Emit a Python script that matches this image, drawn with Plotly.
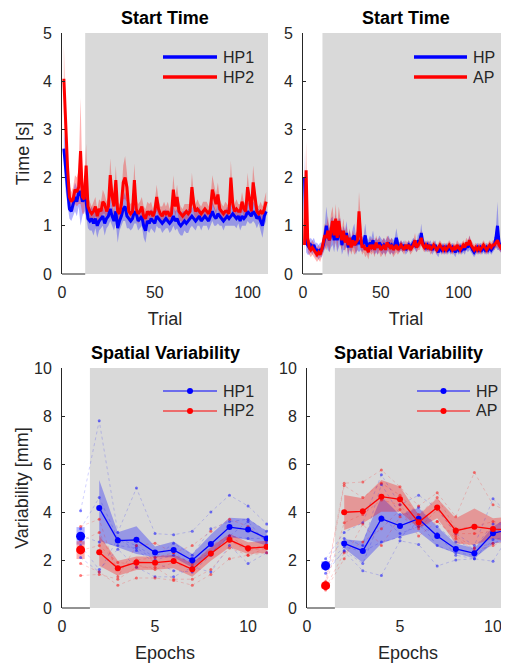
import plotly.graph_objects as go

# the page adds an 8px body margin, so the figure is drawn 8px smaller
PAGE_W, PAGE_H = 509, 664
OFF = 8
W, H = PAGE_W - OFF, PAGE_H - OFF
FONT = "Liberation Sans, Arial, Helvetica, sans-serif"
INK = "#262626"
GRAY = "#d9d9d9"

# ---------------- Start Time: HP1 vs HP2 (per trial) ----------------
hp1_time = [
    2.6, 2.2, 1.8, 1.35, 1.3, 1.45, 1.6, 1.5, 1.7, 1.7,
    1.5, 1.6, 1.5, 1.15, 1.1, 1.15, 1.05, 1.15, 1.0, 1.1,
    1.15, 1.2, 1.05, 1.15, 1.2, 1.35, 1.2, 1.1, 1.3, 0.95,
    1.1, 1.2, 1.35, 1.4, 1.2, 1.15, 1.1, 1.15, 1.3, 1.25,
    1.1, 1.15, 1.2, 1.0, 0.9, 1.1, 1.05, 1.15, 1.1, 1.05,
    1.2, 1.15, 1.1, 1.05, 1.1, 1.15, 1.1, 1.05, 1.1, 1.2,
    1.1, 1.15, 1.05, 1.0, 1.05, 1.1, 1.05, 1.1, 1.15, 1.2,
    1.15, 1.1, 1.15, 1.2, 1.1, 1.15, 1.2, 1.15, 1.1, 1.2,
    1.3, 1.2, 1.15, 1.25, 1.2, 1.15, 1.1, 1.15, 1.2, 1.15,
    1.2, 1.25, 1.2, 1.15, 1.2, 1.1, 1.2, 1.15, 1.2, 1.3,
    1.25, 1.2, 1.3, 1.25, 1.15, 1.2, 1.1, 1.0, 1.2, 1.3,
]
hp1_time_sem = [
    0.35, 0.5, 0.35, 0.2, 0.2, 0.25, 0.3, 0.3, 0.3, 0.7,
    0.3, 0.3, 0.3, 0.2, 0.2, 0.25, 0.25, 0.2, 0.25, 0.2,
    0.2, 0.2, 0.25, 0.2, 0.2, 0.25, 0.2, 0.2, 0.25, 0.3,
    0.2, 0.2, 0.25, 0.3, 0.25, 0.2, 0.2, 0.2, 0.25, 0.2,
    0.2, 0.2, 0.2, 0.25, 0.25, 0.2, 0.2, 0.2, 0.2, 0.2,
    0.2, 0.2, 0.15, 0.2, 0.2, 0.2, 0.15, 0.2, 0.2, 0.2,
    0.2, 0.2, 0.2, 0.2, 0.25, 0.2, 0.2, 0.25, 0.2, 0.2,
    0.2, 0.2, 0.15, 0.2, 0.2, 0.15, 0.2, 0.15, 0.2, 0.2,
    0.2, 0.2, 0.15, 0.2, 0.2, 0.15, 0.2, 0.15, 0.2, 0.15,
    0.2, 0.25, 0.2, 0.2, 0.15, 0.2, 0.2, 0.15, 0.2, 0.2,
    0.2, 0.15, 0.2, 0.2, 0.2, 0.15, 0.2, 0.25, 0.2, 0.2,
]
hp2_time = [
    4.05, 2.9, 2.2, 1.6, 1.5, 1.55, 1.75, 1.7, 1.8, 2.55,
    1.6, 1.55, 2.25, 1.4, 1.3, 1.25, 1.3, 1.4, 1.2, 1.35,
    1.3, 1.5, 1.45, 1.3, 1.4, 2.05, 1.6, 1.4, 1.95, 1.3,
    1.25, 1.45, 1.9, 2.0, 1.8, 1.3, 1.25, 1.3, 1.95, 1.35,
    1.25, 1.3, 1.4, 1.2, 1.15, 1.3, 1.25, 1.3, 1.2, 1.3,
    1.6, 1.35, 1.25, 1.2, 1.3, 1.25, 1.3, 1.2, 1.25, 1.75,
    1.4, 1.6, 1.3, 1.25, 1.2, 1.25, 1.3, 1.25, 1.3, 1.8,
    1.45, 1.3, 1.35, 1.3, 1.25, 1.3, 1.35, 1.3, 1.25, 1.35,
    1.75, 1.6, 1.45, 1.65, 1.35, 1.3, 1.25, 1.3, 1.3, 1.25,
    2.0, 1.45, 1.3, 1.35, 1.3, 1.3, 1.5, 1.35, 1.3, 1.8,
    1.5, 1.3, 1.9, 1.6, 1.3, 1.25, 1.3, 1.25, 1.35, 1.5,
]
hp2_time_sem = [
    0.7, 0.45, 0.35, 0.25, 0.2, 0.25, 0.3, 0.3, 0.35, 1.1,
    0.35, 0.3, 0.45, 0.2, 0.2, 0.15, 0.2, 0.2, 0.15, 0.2,
    0.2, 0.25, 0.2, 0.2, 0.2, 0.35, 0.25, 0.2, 0.3, 0.2,
    0.2, 0.2, 0.35, 0.45, 0.3, 0.2, 0.2, 0.2, 0.35, 0.2,
    0.2, 0.2, 0.2, 0.2, 0.2, 0.2, 0.2, 0.2, 0.15, 0.2,
    0.25, 0.2, 0.15, 0.2, 0.2, 0.15, 0.2, 0.15, 0.2, 0.3,
    0.2, 0.25, 0.2, 0.15, 0.15, 0.2, 0.15, 0.2, 0.15, 0.3,
    0.2, 0.15, 0.2, 0.15, 0.15, 0.2, 0.15, 0.2, 0.15, 0.2,
    0.3, 0.25, 0.2, 0.25, 0.2, 0.15, 0.15, 0.2, 0.15, 0.15,
    0.35, 0.2, 0.15, 0.2, 0.15, 0.15, 0.2, 0.15, 0.15, 0.3,
    0.2, 0.15, 0.35, 0.25, 0.15, 0.15, 0.2, 0.15, 0.2, 0.2,
]

# ---------------- Start Time: HP vs AP (per trial) ----------------
hp_time = [
    2.0, 0.65, 0.6, 0.55, 0.6, 0.55, 0.6, 0.5, 0.5, 0.45,
    0.5, 0.5, 0.6, 0.75, 1.0, 0.8, 0.7, 0.85, 0.9, 0.7,
    0.95, 0.7, 0.85, 0.9, 0.6, 0.75, 0.7, 0.85, 0.55, 0.7,
    0.6, 0.75, 0.8, 0.6, 0.7, 0.65, 0.7, 0.6, 0.65, 0.8,
    0.6, 0.55, 0.65, 0.6, 0.7, 0.55, 0.6, 0.55, 0.65, 0.6,
    0.55, 0.6, 0.55, 0.6, 0.65, 0.55, 0.6, 0.55, 0.6, 0.75,
    0.6, 0.55, 0.6, 0.55, 0.6, 0.5, 0.55, 0.6, 0.55, 0.6,
    0.65, 0.6, 0.55, 0.7, 0.65, 0.85, 0.65, 0.6, 0.55, 0.6,
    0.55, 0.6, 0.5, 0.55, 0.6, 0.5, 0.45, 0.55, 0.5, 0.55,
    0.5, 0.55, 0.5, 0.55, 0.5, 0.55, 0.5, 0.45, 0.55, 0.5,
    0.55, 0.5, 0.55, 0.5, 0.6, 0.55, 0.65, 0.55, 0.5, 0.45,
    0.5, 0.55, 0.5, 0.55, 0.5, 0.55, 0.5, 0.55, 0.5, 0.55,
    0.5, 0.55, 0.6, 0.75, 1.0, 0.65, 0.55, 0.5, 0.55, 0.5,
    0.55, 0.5, 0.55,
]
hp_time_sem = [
    0.55, 0.2, 0.2, 0.15, 0.15, 0.15, 0.15, 0.15, 0.15, 0.15,
    0.15, 0.15, 0.2, 0.25, 0.4, 0.3, 0.25, 0.3, 0.3, 0.25,
    0.3, 0.25, 0.3, 0.25, 0.2, 0.25, 0.2, 0.25, 0.2, 0.2,
    0.15, 0.2, 0.25, 0.2, 0.2, 0.2, 0.2, 0.15, 0.15, 0.25,
    0.15, 0.15, 0.15, 0.15, 0.2, 0.15, 0.15, 0.15, 0.15, 0.15,
    0.15, 0.15, 0.15, 0.15, 0.15, 0.15, 0.15, 0.15, 0.15, 0.2,
    0.15, 0.1, 0.1, 0.1, 0.1, 0.1, 0.1, 0.1, 0.1, 0.1,
    0.1, 0.1, 0.1, 0.15, 0.1, 0.2, 0.1, 0.1, 0.1, 0.1,
    0.1, 0.1, 0.1, 0.1, 0.1, 0.1, 0.1, 0.1, 0.1, 0.1,
    0.1, 0.1, 0.1, 0.1, 0.1, 0.1, 0.1, 0.1, 0.1, 0.1,
    0.1, 0.1, 0.1, 0.1, 0.1, 0.1, 0.15, 0.1, 0.1, 0.1,
    0.1, 0.1, 0.1, 0.1, 0.1, 0.1, 0.1, 0.1, 0.1, 0.1,
    0.1, 0.1, 0.1, 0.2, 0.5, 0.15, 0.1, 0.1, 0.1, 0.1,
    0.1, 0.1, 0.1,
]
ap_time = [
    0.6, 2.15, 0.75, 0.55, 0.5, 0.55, 0.5, 0.45, 0.4, 0.45,
    0.4, 0.5, 0.65, 0.8, 0.75, 0.9, 0.7, 0.95, 1.1, 0.8,
    1.15, 0.75, 1.1, 0.85, 0.7, 0.9, 0.65, 0.8, 0.6, 0.75,
    0.55, 0.7, 0.6, 0.65, 0.7, 1.3, 0.8, 0.55, 0.6, 0.5,
    0.55, 0.45, 0.6, 0.55, 0.6, 0.5, 0.65, 0.55, 0.6, 0.5,
    0.55, 0.6, 0.5, 0.65, 0.6, 0.55, 0.6, 0.5, 0.55, 0.6,
    0.5, 0.55, 0.6, 0.55, 0.5, 0.6, 0.55, 0.6, 0.5, 0.55,
    0.6, 0.7, 0.55, 0.6, 0.65, 0.75, 0.6, 0.55, 0.6, 0.55,
    0.6, 0.5, 0.55, 0.6, 0.55, 0.5, 0.55, 0.6, 0.55, 0.5,
    0.55, 0.5, 0.55, 0.6, 0.55, 0.5, 0.55, 0.5, 0.6, 0.55,
    0.5, 0.55, 0.6, 0.55, 0.65, 0.6, 0.7, 0.6, 0.55, 0.5,
    0.55, 0.5, 0.55, 0.5, 0.55, 0.6, 0.55, 0.5, 0.55, 0.6,
    0.55, 0.6, 0.6, 0.65, 0.7, 0.6, 0.55, 0.6, 0.55, 0.6,
    0.55, 0.6, 0.55,
]
ap_time_sem = [
    0.3, 0.6, 0.3, 0.15, 0.15, 0.15, 0.15, 0.15, 0.15, 0.15,
    0.15, 0.15, 0.2, 0.25, 0.25, 0.3, 0.25, 0.3, 0.3, 0.25,
    0.3, 0.25, 0.3, 0.25, 0.2, 0.25, 0.2, 0.2, 0.2, 0.2,
    0.15, 0.2, 0.2, 0.2, 0.2, 0.4, 0.25, 0.15, 0.15, 0.15,
    0.15, 0.15, 0.15, 0.15, 0.15, 0.15, 0.15, 0.15, 0.15, 0.15,
    0.15, 0.15, 0.15, 0.15, 0.15, 0.15, 0.15, 0.15, 0.15, 0.15,
    0.1, 0.1, 0.1, 0.1, 0.1, 0.1, 0.1, 0.1, 0.1, 0.1,
    0.1, 0.15, 0.1, 0.1, 0.15, 0.15, 0.1, 0.1, 0.1, 0.1,
    0.1, 0.1, 0.1, 0.1, 0.1, 0.1, 0.1, 0.1, 0.1, 0.1,
    0.1, 0.1, 0.1, 0.1, 0.1, 0.1, 0.1, 0.1, 0.1, 0.1,
    0.1, 0.1, 0.1, 0.1, 0.1, 0.1, 0.1, 0.1, 0.1, 0.1,
    0.1, 0.1, 0.1, 0.1, 0.1, 0.1, 0.1, 0.1, 0.1, 0.1,
    0.1, 0.1, 0.1, 0.1, 0.15, 0.1, 0.1, 0.1, 0.1, 0.1,
    0.1, 0.1, 0.1,
]

# ---------------- Spatial Variability (per epoch) ----------------
epochs = [1, 2, 3, 4, 5, 6, 7, 8, 9, 10, 11]

hp1_var = [2.99, 4.17, 2.81, 2.84, 2.31, 2.42, 1.99, 2.67, 3.37, 3.27, 2.90]
hp1_var_lo = [2.64, 2.80, 2.53, 2.25, 2.11, 2.11, 1.69, 2.25, 2.95, 2.84, 2.60]
hp1_var_hi = [3.37, 5.33, 3.16, 3.41, 2.56, 2.77, 2.25, 3.06, 3.76, 3.72, 3.20]
hp2_var = [2.42, 2.32, 1.66, 1.90, 1.89, 1.96, 1.61, 2.27, 2.84, 2.49, 2.55]
hp2_var_lo = [2.04, 1.76, 1.34, 1.58, 1.59, 1.66, 1.30, 1.97, 2.53, 2.25, 2.30]
hp2_var_hi = [2.78, 3.02, 1.97, 2.15, 2.15, 2.22, 1.86, 2.53, 3.09, 2.74, 2.80]

hp1_subjects = [
    [4.05, 7.8, 3.15, 5.0, 3.1, 3.05, 3.2, 4.0, 4.7, 4.25, 3.5],
    [3.3, 4.6, 2.9, 2.6, 2.1, 2.7, 2.2, 3.3, 3.6, 3.7, 3.2],
    [3.0, 2.75, 2.6, 2.5, 2.0, 2.2, 1.9, 2.3, 3.0, 2.9, 2.9],
    [2.6, 1.6, 2.45, 1.7, 1.3, 1.3, 1.7, 1.5, 2.6, 1.85, 2.3],
    [2.1, 1.5, 2.9, 2.4, 1.9, 1.55, 1.5, 2.2, 3.0, 3.6, 2.7],
]
hp2_subjects = [
    [3.4, 3.7, 1.3, 2.6, 2.7, 2.3, 2.6, 3.2, 3.7, 3.4, 2.8],
    [2.8, 3.15, 1.6, 2.0, 2.1, 2.3, 1.8, 2.6, 3.0, 2.5, 2.6],
    [2.4, 2.6, 1.9, 1.8, 1.6, 1.9, 1.6, 2.3, 2.8, 2.4, 2.5],
    [1.85, 1.5, 0.95, 1.25, 1.25, 1.15, 0.95, 1.4, 2.05, 2.2, 2.3],
    [1.35, 1.4, 1.2, 1.7, 1.7, 1.2, 1.2, 1.6, 2.5, 2.2, 2.5],
]

hp_var = [1.76, 2.69, 2.38, 3.72, 3.42, 3.72, 3.00, 2.46, 2.28, 3.11, 3.30]
hp_var_lo = [1.60, 2.49, 1.89, 2.69, 2.97, 3.18, 2.56, 2.28, 2.07, 2.69, 2.80]
hp_var_hi = [1.95, 2.86, 2.79, 4.64, 3.88, 4.18, 3.39, 2.69, 2.49, 3.39, 3.90]
ap_var = [0.93, 3.99, 4.03, 4.64, 4.53, 3.57, 4.19, 3.22, 3.39, 3.29, 3.25]
ap_var_lo = [0.80, 3.25, 3.53, 4.01, 4.01, 3.32, 3.74, 2.69, 2.63, 2.90, 2.70]
ap_var_hi = [1.05, 4.71, 4.57, 5.33, 5.06, 3.88, 4.57, 3.74, 4.15, 3.74, 3.80]

hp_subjects = [
    [2.05, 3.15, 3.55, 5.55, 4.3, 4.7, 4.15, 3.1, 2.6, 4.55, 3.8],
    [1.9, 2.9, 2.6, 5.15, 3.9, 4.2, 3.4, 2.75, 2.5, 3.5, 3.5],
    [1.75, 2.55, 2.35, 2.75, 2.95, 3.6, 2.6, 2.3, 2.2, 2.7, 3.0],
    [1.6, 2.35, 1.55, 1.35, 2.8, 2.65, 1.75, 2.0, 2.05, 1.95, 3.2],
    [1.45, 2.4, 1.85, 3.8, 3.1, 3.4, 3.1, 2.2, 2.05, 2.85, 3.0],
]
ap_subjects = [
    [1.1, 5.2, 5.25, 5.75, 5.05, 4.25, 4.8, 3.8, 5.65, 4.3, 4.0],
    [1.0, 5.1, 4.6, 5.2, 4.7, 3.9, 4.6, 3.3, 3.4, 3.6, 3.5],
    [0.95, 3.55, 3.9, 4.5, 4.3, 3.3, 4.1, 3.1, 3.1, 3.2, 3.3],
    [0.85, 2.3, 2.75, 3.3, 4.1, 3.0, 3.6, 3.0, 2.5, 2.7, 2.8],
    [0.75, 2.05, 3.5, 2.6, 3.8, 3.4, 3.6, 2.9, 2.4, 2.6, 2.9],
]

BLUE = "rgb(0,0,255)"
RED = "rgb(255,0,0)"
BLUE_FILL = "rgba(0,0,255,0.3)"
RED_FILL = "rgba(255,0,0,0.3)"
BLUE_FAINT = "rgba(0,0,255,0.18)"
RED_FAINT = "rgba(255,0,0,0.18)"
BLUE_DOT = "rgba(0,0,255,0.5)"
RED_DOT = "rgba(255,0,0,0.5)"


def px(x):
    return (x - OFF) / W


def py(y):
    return (PAGE_H - y) / H


fig = go.Figure()


def band(x, lo, hi, fill, xa, ya):
    x = list(x)
    fig.add_trace(
        go.Scatter(
            x=x + x[::-1],
            y=list(hi) + list(lo)[::-1],
            fill="toself",
            fillcolor=fill,
            mode="lines",
            line={"width": 0},
            hoverinfo="skip",
            showlegend=False,
            xaxis=xa,
            yaxis=ya,
        )
    )


def time_panel(series, xa, ya):
    # bands first, then mean lines on top
    for mean, sem, color, fill in series:
        trials = list(range(1, len(mean) + 1))
        lo = [m - s for m, s in zip(mean, sem)]
        hi = [m + s for m, s in zip(mean, sem)]
        band(trials, lo, hi, fill, xa, ya)
    for mean, sem, color, fill in series:
        trials = list(range(1, len(mean) + 1))
        fig.add_trace(
            go.Scatter(
                x=trials, y=mean, mode="lines",
                line={"color": color, "width": 3},
                showlegend=False, xaxis=xa, yaxis=ya,
            )
        )


def variability_panel(groups, xa, ya):
    for mean, lo, hi, subjects, color, fill, faint, dot in groups:
        # first epoch stands alone: drawn as a small box
        e1 = epochs[0]
        band([e1 - 0.22, e1 + 0.22], [lo[0], lo[0]], [hi[0], hi[0]], fill, xa, ya)
        band(epochs[1:], lo[1:], hi[1:], fill, xa, ya)
    for mean, lo, hi, subjects, color, fill, faint, dot in groups:
        for subj in subjects:
            fig.add_trace(
                go.Scatter(
                    x=epochs, y=subj, mode="lines+markers",
                    line={"color": faint, "width": 1, "dash": "dot"},
                    marker={"size": 3, "color": dot},
                    hoverinfo="skip", showlegend=False, xaxis=xa, yaxis=ya,
                )
            )
    for mean, lo, hi, subjects, color, fill, faint, dot in groups:
        fig.add_trace(
            go.Scatter(
                x=epochs[1:], y=mean[1:], mode="lines+markers",
                line={"color": color, "width": 1.3},
                marker={"size": 6, "color": color},
                showlegend=False, xaxis=xa, yaxis=ya,
            )
        )
        fig.add_trace(
            go.Scatter(
                x=epochs[:1], y=mean[:1], mode="markers",
                marker={"size": 9, "color": color},
                showlegend=False, xaxis=xa, yaxis=ya,
            )
        )


time_panel([(hp1_time, hp1_time_sem, BLUE, BLUE_FILL),
            (hp2_time, hp2_time_sem, RED, RED_FILL)], "x", "y")
time_panel([(hp_time, hp_time_sem, BLUE, BLUE_FILL),
            (ap_time, ap_time_sem, RED, RED_FILL)], "x2", "y2")
variability_panel(
    [(hp1_var, hp1_var_lo, hp1_var_hi, hp1_subjects, BLUE, BLUE_FILL, BLUE_FAINT, BLUE_DOT),
     (hp2_var, hp2_var_lo, hp2_var_hi, hp2_subjects, RED, RED_FILL, RED_FAINT, RED_DOT)],
    "x3", "y3",
)
variability_panel(
    [(hp_var, hp_var_lo, hp_var_hi, hp_subjects, BLUE, BLUE_FILL, BLUE_FAINT, BLUE_DOT),
     (ap_var, ap_var_lo, ap_var_hi, ap_subjects, RED, RED_FILL, RED_FAINT, RED_DOT)],
    "x4", "y4",
)

# panel geometry in page pixels
panels = {
    # suffix: (x0, x1, y_top, y_bottom, xmax, ymax, dtick_x, dtick_y, block_start, ytitle_standoff)
    "": (62, 268, 33, 274, 111.0, 5, 50, 1, 12.5, 8),
    "2": (303, 509, 33, 274, 132.4, 5, 50, 1, 12.5, 8),
    "3": (62, 268, 368, 608, 11.07, 10, 5, 2, 1.5, 0),
    "4": (307, 509, 368, 608, 10.86, 10, 5, 2, 1.5, 0),
}
xtitles = {"": "Trial", "2": "Trial", "3": "Epochs", "4": "Epochs"}
ytitles = {"": "Time [s]", "2": "", "3": "Variability [mm]", "4": ""}
titles = {"": "Start Time", "2": "Start Time", "3": "Spatial Variability", "4": "Spatial Variability"}

# legends: (names, colors, line colors, with marker, line x0, line x1, text x, row ys)
legends = {
    "": (["HP1", "HP2"], [BLUE, RED], [BLUE, RED], False, 163, 217, 221, [57, 77]),
    "2": (["HP", "AP"], [BLUE, RED], [BLUE, RED], False, 414, 467, 471, [57, 77]),
    "3": (["HP1", "HP2"], [BLUE, RED], ["rgba(0,0,255,0.5)", "rgba(255,0,0,0.5)"], True, 163, 217, 221, [391, 411]),
    "4": (["HP", "AP"], [BLUE, RED], ["rgba(0,0,255,0.5)", "rgba(255,0,0,0.5)"], True, 417, 470, 474, [391, 411]),
}

layout_axes = {}
shapes = []
annotations = []
for k, (x0, x1, yt, yb, xmax, ymax, dx, dy, block, ystand) in panels.items():
    layout_axes["xaxis" + k] = dict(
        domain=[px(x0), min(px(x1), 1.0)],
        range=[0, xmax],
        anchor="y" + k,
        dtick=dx,
        tick0=0,
        showline=False,
        showgrid=False,
        zeroline=False,
        ticks="",
        ticklabelstandoff=7,
        tickfont={"size": 16, "color": INK},
        title={"text": xtitles[k], "font": {"size": 18, "color": INK}, "standoff": 12},
        automargin=False,
    )
    layout_axes["yaxis" + k] = dict(
        domain=[py(yb), py(yt)],
        range=[0, ymax],
        anchor="x" + k,
        dtick=dy,
        showline=True,
        linecolor=INK,
        linewidth=1,
        showgrid=False,
        zeroline=False,
        ticks="inside",
        ticklen=3,
        tickcolor=INK,
        ticklabelstandoff=6,
        tickfont={"size": 16, "color": INK},
        title={"text": ytitles[k], "font": {"size": 18, "color": INK}, "standoff": ystand},
        automargin=False,
    )
    xr = "x" + k if k else "x"
    yr = "y" + k if k else "y"
    shapes.append(dict(
        type="rect", xref=xr, yref=yr + " domain", x0=block, x1=xmax, y0=0, y1=1,
        fillcolor=GRAY, line={"width": 0}, layer="below",
    ))
    shapes.append(dict(
        type="line", xref=xr, yref=yr + " domain", x0=0, x1=block, y0=0, y1=0,
        line={"color": INK, "width": 1}, layer="above",
    ))
    annotations.append(dict(
        text="<b>" + titles[k] + "</b>", xref="paper", yref="paper",
        x=px((x0 + x1) / 2), y=py(yt - 15), xanchor="center", yanchor="middle",
        showarrow=False, font={"size": 18, "color": "#000000"},
    ))

    names, colors, lcolors, with_marker, lx0, lx1, tx, rows = legends[k]
    for name, color, lcolor, ry in zip(names, colors, lcolors, rows):
        shapes.append(dict(
            type="line", xref="paper", yref="paper",
            x0=px(lx0), x1=px(lx1), y0=py(ry), y1=py(ry),
            line={"color": lcolor, "width": 2 if with_marker else 3.5}, layer="above",
        ))
        if with_marker:
            cx = (lx0 + lx1) / 2
            shapes.append(dict(
                type="circle", xref="paper", yref="paper",
                x0=px(cx - 3), x1=px(cx + 3), y0=py(ry + 3), y1=py(ry - 3),
                fillcolor=color, line={"width": 0}, layer="above",
            ))
        annotations.append(dict(
            text=name, xref="paper", yref="paper", x=px(tx), y=py(ry),
            xanchor="left", yanchor="middle", showarrow=False,
            font={"size": 16, "color": INK},
        ))

fig.update_layout(
    width=W,
    height=H,
    margin={"l": 0, "r": 0, "t": 0, "b": 0},
    paper_bgcolor="white",
    plot_bgcolor="white",
    font={"family": FONT, "color": INK},
    showlegend=False,
    shapes=shapes,
    annotations=annotations,
    **layout_axes,
)

fig.write_html("out.html")
